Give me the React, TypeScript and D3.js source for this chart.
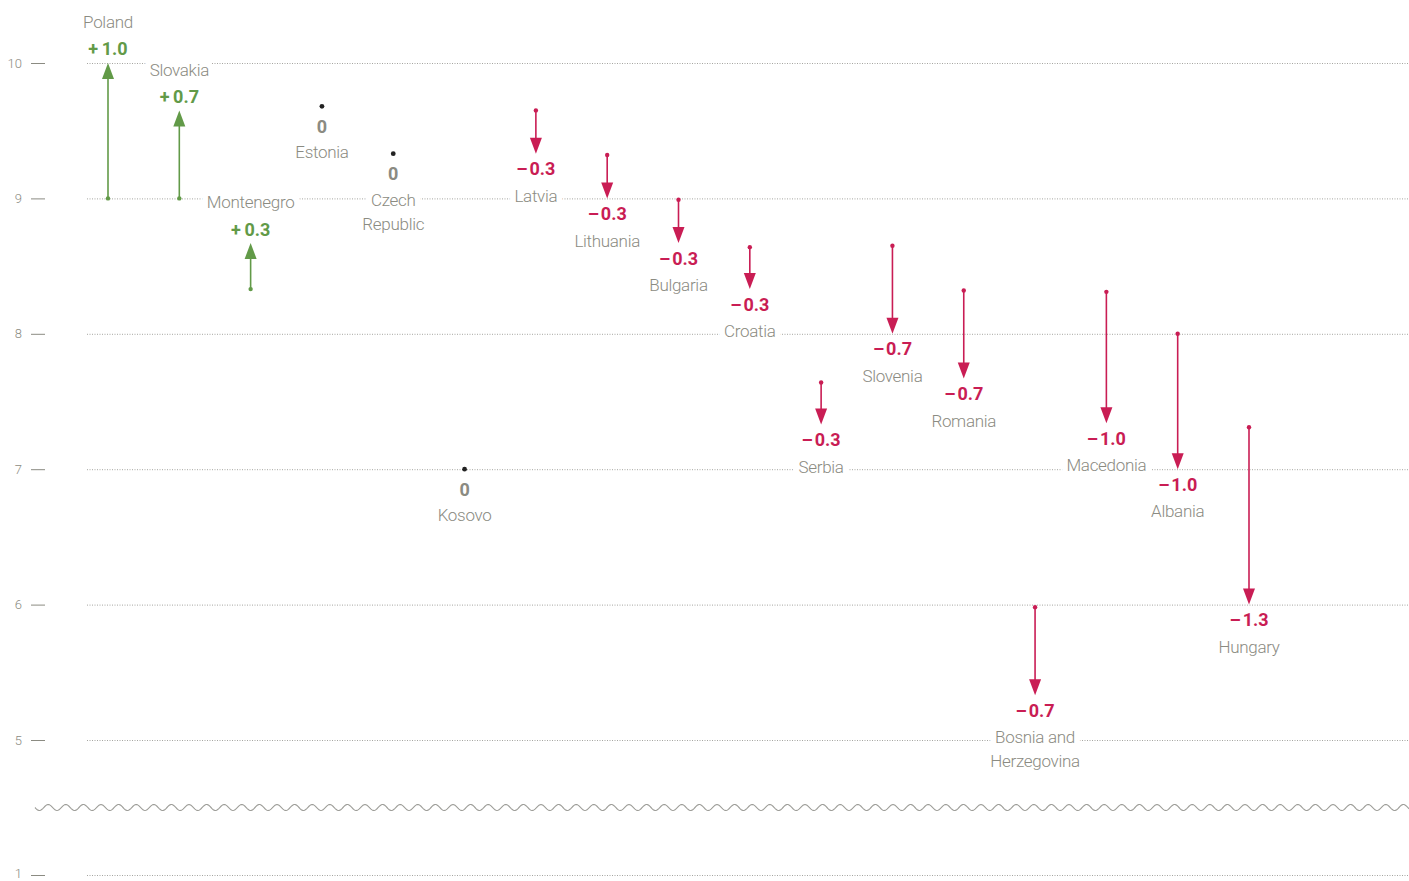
import { useEffect, useRef } from 'react';
import * as d3 from 'd3';

const countries = [
  'Poland', 'Slovakia', 'Montenegro', 'Estonia', 'Czech Republic', 'Kosovo', 'Latvia',
  'Lithuania', 'Bulgaria', 'Croatia', 'Serbia', 'Slovenia', 'Romania',
  'Bosnia and Herzegovina', 'Macedonia', 'Albania', 'Hungary',
];
// label lines for two-line names
const nameLines: Record<string, string[]> = {
  'Czech Republic': ['Czech', 'Republic'],
  'Bosnia and Herzegovina': ['Bosnia and', 'Herzegovina'],
};
const startValues = [9.0, 9.0, 8.33, 9.68, 9.33, 7.0, 9.65, 9.32, 8.99, 8.64, 7.64, 8.65, 8.32, 5.98, 8.31, 8.0, 7.31];
const endValues = [10.0, 9.65, 8.67, 9.68, 9.33, 7.0, 9.33, 9.0, 8.67, 8.33, 7.33, 8.0, 7.67, 5.33, 7.34, 7.0, 6.0];
const changeLabels = ['+\u20091.0', '+\u20090.7', '+\u20090.3', '0', '0', '0', '\u2013\u200A0.3', '\u2013\u200A0.3', '\u2013\u200A0.3', '\u2013\u200A0.3', '\u2013\u200A0.3', '\u2013\u200A0.7', '\u2013\u200A0.7', '\u2013\u200A0.7', '\u2013\u200A1.0', '\u2013\u200A1.0', '\u2013\u200A1.3'];
const yTicks = [1, 5, 6, 7, 8, 9, 10];

const W = 1409;
const H = 881;
const GREEN = '#629a48';
const RED = '#c91d54';
const GREY = '#8b8b82';
const FONT = 'Roboto, "Open Sans", sans-serif';

const App = () => {
  const ref = useRef<SVGSVGElement>(null);

  useEffect(() => {
    document.body.style.margin = '0';
    if (!ref.current) return;
    const svg = d3.select(ref.current);
    svg.selectAll('*').remove();

    const x = d3.scalePoint<string>().domain(countries).range([108, 1249]);
    // broken axis: 1 sits below the break
    const y = d3.scaleLinear().domain([1, 5, 10]).range([875, 740, 63]);

    // grid lines
    svg.append('g').selectAll('line').data(yTicks).join('line')
      .attr('x1', 87).attr('x2', W)
      .attr('y1', d => y(d) + 0.5).attr('y2', d => y(d) + 0.5)
      .attr('stroke', '#a5a5a0').attr('stroke-width', 1)
      .attr('stroke-dasharray', '1,1.5');

    // y ticks
    const ticks = svg.append('g');
    ticks.selectAll('text').data(yTicks).join('text')
      .attr('x', 22).attr('y', d => y(d))
      .attr('dy', d => (d === 1 ? '0.25em' : '0.35em'))
      .attr('text-anchor', 'end')
      .style('font-family', FONT).style('font-size', '13px').style('font-weight', 300)
      .attr('fill', GREY)
      .text(d => d);
    ticks.selectAll('line').data(yTicks).join('line')
      .attr('x1', 31).attr('x2', 45)
      .attr('y1', d => y(d) + 0.5).attr('y2', d => y(d) + 0.5)
      .attr('stroke', GREY).attr('stroke-width', 1);

    // wavy break
    const breakY = (y(5) + y(1)) / 2;
    const wave: [number, number][] = [];
    for (let px = 35; px <= W; px += 1) {
      wave.push([px, breakY + 3 * Math.sin(((px - 35) / 17.6) * 2 * Math.PI)]);
    }
    svg.append('path')
      .attr('d', d3.line()(wave))
      .attr('fill', 'none').attr('stroke', '#9d9d98').attr('stroke-width', 1.1);

    const rows = countries.map((c, i) => ({
      name: c, start: startValues[i], end: endValues[i], label: changeLabels[i],
      dir: endValues[i] > startValues[i] ? 'up' : endValues[i] < startValues[i] ? 'down' : 'flat',
    }));

    const headLen = 16;
    const headHalf = 6;
    const g = svg.append('g');
    rows.forEach(r => {
      const cx = x(r.name) as number;
      const color = r.dir === 'up' ? GREEN : r.dir === 'down' ? RED : '#222';
      const y0 = y(r.start);
      const y1 = y(r.end);
      if (r.dir !== 'flat') {
        const s = r.dir === 'up' ? -1 : 1;
        g.append('line')
          .attr('x1', cx).attr('x2', cx)
          .attr('y1', y0).attr('y2', y1 - s * (headLen - 2))
          .attr('stroke', color).attr('stroke-width', 1.6);
        g.append('path')
          .attr('d', `M${cx - headHalf},${y1 - s * headLen} L${cx + headHalf},${y1 - s * headLen} L${cx},${y1} Z`)
          .attr('fill', color);
      }
      g.append('circle').attr('cx', cx).attr('cy', y0)
        .attr('r', r.dir === 'flat' ? 2.4 : 2.2).attr('fill', color);

      const lines = nameLines[r.name] || [r.name];
      let valueY: number;
      let nameY: number;
      if (r.dir === 'up') {
        valueY = y1 - 14;
        nameY = y1 - 41;
      } else if (r.dir === 'down') {
        valueY = y1 + 15;
        nameY = y1 + 42;
      } else {
        valueY = y0 + 20;
        nameY = y0 + 46;
      }
      const valueColor = r.dir === 'up' ? GREEN : r.dir === 'down' ? RED : GREY;
      g.append('text')
        .attr('x', cx).attr('y', valueY).attr('dy', '0.36em')
        .attr('text-anchor', 'middle')
        .style('font-family', FONT).style('font-size', '18px').style('font-weight', 700)
        .attr('fill', valueColor)
        .text(r.label);
      lines.forEach((ln, li) => {
        g.append('text')
          .attr('x', cx).attr('y', nameY + li * 24).attr('dy', '0.36em')
          .attr('text-anchor', 'middle')
          .style('font-family', FONT).style('font-size', '17px').style('font-weight', 300)
          .style('letter-spacing', '-0.3px')
          .attr('fill', GREY)
          .attr('stroke', '#fff').attr('stroke-width', 12)
          .attr('stroke-linejoin', 'round')
          .style('paint-order', 'stroke')
          .text(ln);
      });
    });
  }, []);

  return <svg ref={ref} width={W} height={H} style={{ display: 'block', background: '#fff' }} />;
};

export default App;
